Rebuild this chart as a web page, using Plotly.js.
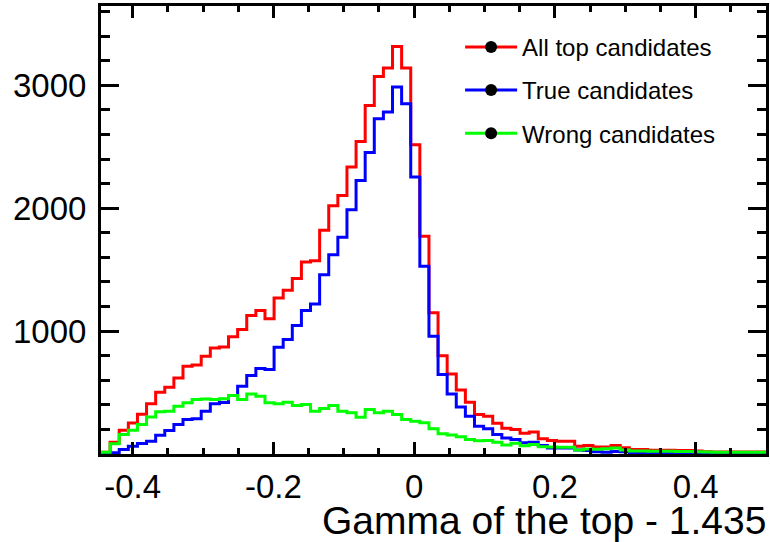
<!DOCTYPE html>
<html>
<head>
<meta charset="utf-8">
<script src="https://cdn.plot.ly/plotly-3.0.1.min.js"></script>
<style>html,body{margin:0;padding:0;background:#fff;}#chart{width:770px;height:542px;}</style>
</head>
<body>
<div id="chart"></div>
<script>
// Histogram binning (73 bins over the displayed range)
const xLow = -0.445;
const xHigh = 0.5;
const nBins = 73;

// Bin contents
const allTop = [15,96,194,253,324,408,503,543,619,714,725,795,863,870,953,1012,1126,1167,1100,
  1270,1332,1427,1562,1573,1820,2020,2104,2335,2543,2836,3072,3140,3316,3140,2516,
  1771,1150,800,650,520,421,321,308,250,210,199,168,180,125,110,104,104,64,
  69,56,56,69,50,37,37,31,31,31,28,28,25,18,16,16,16,16,16,16];
const trueCand = [0,10,37,64,85,104,153,191,240,280,286,348,408,420,475,551,638,695,687,
  868,931,1045,1167,1221,1459,1622,1763,1988,2226,2454,2728,2782,2985,2850,2253,
  1527,958,646,489,383,308,226,205,159,131,118,91,96,70,48,48,48,33,
  29,18,14,21,18,12,12,9,9,9,8,8,7,2,1,1,1,1,1,1];
const wrongCand = [15,83,159,194,240,302,343,348,389,416,443,448,443,450,475,443,489,470,416,
  408,421,394,402,348,370,394,348,335,299,362,335,348,321,280,267,
  255,205,165,155,140,118,107,110,95,73,88,68,78,58,56,54,54,33,
  40,38,42,48,32,25,25,22,22,22,20,20,18,16,15,15,15,15,15,15];

const seriesNames = ['All top candidates', 'True candidates', 'Wrong candidates'];
const seriesColors = ['#ff0000', '#0000ff', '#00ff00'];
const seriesData = [allTop, trueCand, wrongCand];

const xTickVals = [-0.4, -0.2, 0, 0.2, 0.4];
const xTickText = ['-0.4', '-0.2', '0', '0.2', '0.4'];
const yTickVals = [1000, 2000, 3000];
const yTickText = ['1000', '2000', '3000'];
const xTitle = 'Gamma of the top - 1.435';

const binW = (xHigh - xLow) / nBins;
const edges = [];
for (let i = 0; i <= nBins; i++) edges.push(xLow + i * binW);

const traces = [];
seriesData.forEach((vals, i) => {
  traces.push({
    type: 'scatter', mode: 'lines',
    x: edges, y: vals.concat([vals[vals.length - 1]]),
    line: {shape: 'hv', color: seriesColors[i], width: 3},
    showlegend: false, hoverinfo: 'skip'
  });
});
seriesData.forEach((vals, i) => {
  traces.push({
    type: 'scatter', mode: 'lines+markers',
    x: [null], y: [null],
    name: seriesNames[i], legendgroup: 'g' + i,
    line: {color: seriesColors[i], width: 3},
    marker: {color: '#000', size: 12, symbol: 'circle'},
    showlegend: true
  });
});

const font = 'Liberation Sans, Arial, Helvetica, sans-serif';
const layout = {
  width: 770, height: 542,
  margin: {l: 101, r: 4, t: 6, b: 88, pad: 0},
  paper_bgcolor: '#fff', plot_bgcolor: '#fff',
  font: {family: font, color: '#000'},
  showlegend: true,
  legend: {
    x: 0.54, y: 0.958, xanchor: 'left', yanchor: 'top',
    bgcolor: 'rgba(0,0,0,0)', borderwidth: 0,
    font: {family: font, size: 24, color: '#000'},
    itemwidth: 52, tracegroupgap: 9, traceorder: 'grouped'
  },
  xaxis: {
    range: [xLow, xHigh], showgrid: false, zeroline: false,
    showline: true, linewidth: 3, linecolor: '#000', mirror: 'ticks',
    ticks: 'inside', ticklen: 12, tickwidth: 3, tickcolor: '#000',
    tickmode: 'array', tickvals: xTickVals, ticktext: xTickText,
    tickfont: {family: font, size: 33, color: '#000'},
    ticklabelstandoff: 1,
    minor: {tickmode: 'linear', tick0: 0, dtick: 0.05, ticks: 'inside', ticklen: 6, tickwidth: 3, tickcolor: '#000', showgrid: false}
  },
  yaxis: {
    range: [0, 3645], showgrid: false, zeroline: false,
    showline: true, linewidth: 3, linecolor: '#000', mirror: 'ticks',
    ticks: 'inside', ticklen: 18, tickwidth: 3, tickcolor: '#000',
    tickmode: 'array', tickvals: yTickVals, ticktext: yTickText,
    tickfont: {family: font, size: 33, color: '#000'},
    ticklabelstandoff: 5,
    minor: {tickmode: 'linear', tick0: 0, dtick: 200, ticks: 'inside', ticklen: 9, tickwidth: 3, tickcolor: '#000', showgrid: false}
  },
  annotations: [{
    text: xTitle, xref: 'paper', yref: 'paper', x: 1, y: -0.149,
    xanchor: 'right', yanchor: 'middle', showarrow: false, xshift: 2,
    font: {family: font, size: 39, color: '#000'}
  }]
};

Plotly.newPlot('chart', traces, layout, {displayModeBar: false, staticPlot: true});
</script>
</body>
</html>
